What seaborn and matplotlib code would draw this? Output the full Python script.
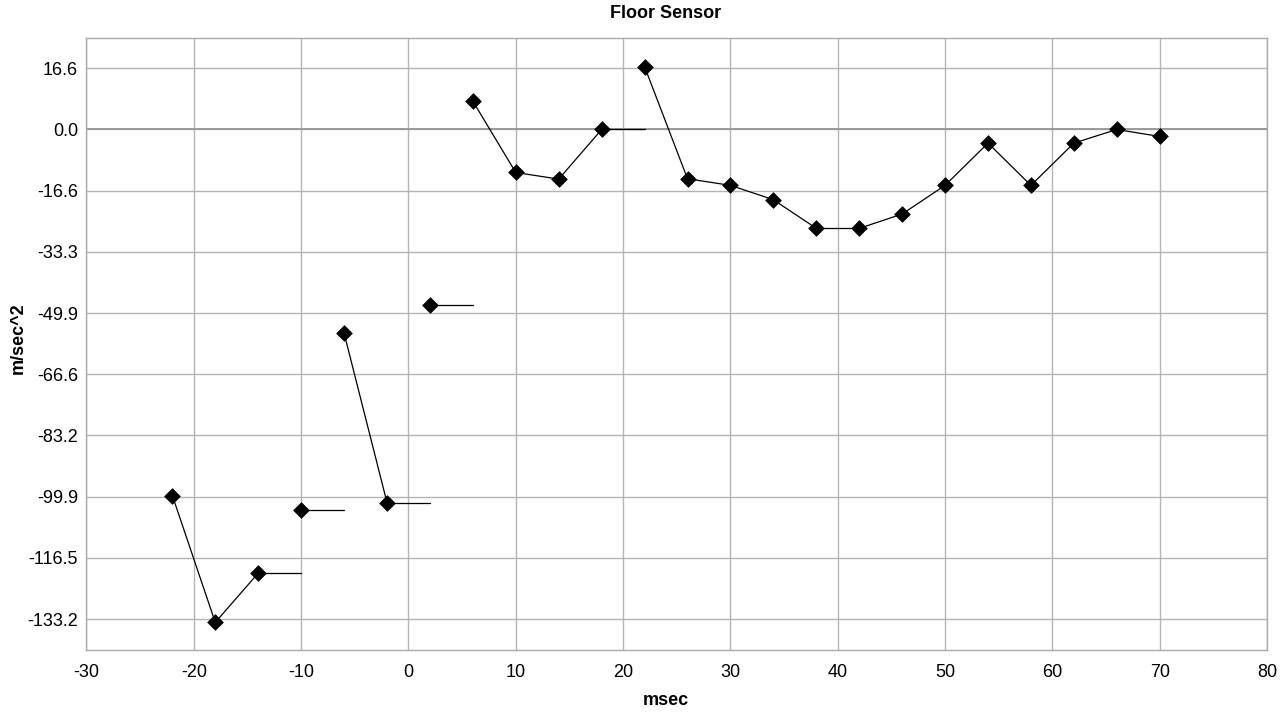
import matplotlib
matplotlib.use("Agg")
import matplotlib.pyplot as plt
import seaborn as sns
import pandas as pd

# ---- data ----
msec = [-22, -18, -14, -10, -6, -2, 2, 6, 10, 14, 18, 22, 26, 30, 34, 38, 42,
        46, 50, 54, 58, 62, 66, 70]
accel = [-99.6, -134.1, -120.7, -103.5, -55.4, -101.5, -47.8, 7.7, -11.7, -13.5,
         0.0, 17.1, -13.4, -15.2, -19.1, -26.9, -26.9, -23.0, -15.2, -3.7,
         -15.2, -3.7, 0.0, -1.9]
# x values after which the trace stays flat up to the next sample
hold_after = [-14, -10, -2, 2, 18]

x_ticks = [-30, -20, -10, 0, 10, 20, 30, 40, 50, 60, 70, 80]
x_tick_labels = ["-30", "-20", "-10", "0", "10", "20", "30", "40", "50", "60", "70", "80"]
y_ticks = [16.65, 0.0, -16.65, -33.3, -49.95, -66.6, -83.25, -99.9, -116.55, -133.2]
y_tick_labels = ["16.6", "0.0", "-16.6", "-33.3", "-49.9", "-66.6", "-83.2",
                 "-99.9", "-116.5", "-133.2"]

title = "Floor Sensor"
x_label = "msec"
y_label = "m/sec^2"

# ---- build segment table ----
rows = []
for i in range(len(msec) - 1):
    x0, y0 = msec[i], accel[i]
    x1 = msec[i + 1]
    y1 = y0 if x0 in hold_after else accel[i + 1]
    rows.append({"seg": i, "order": 0, "x": x0, "y": y0})
    rows.append({"seg": i, "order": 1, "x": x1, "y": y1})
segs = pd.DataFrame(rows)
pts = pd.DataFrame({"msec": msec, "accel": accel})

sns.set_style("white")
plt.rcParams["font.family"] = ["Liberation Sans", "DejaVu Sans"]
plt.rcParams["text.color"] = "black"
plt.rcParams["axes.labelcolor"] = "black"

fig = plt.figure(figsize=(12.87, 7.14), dpi=100)
ax = fig.add_axes([0.0672, 0.0901, 0.9173, 0.8571])

grid_c = "#b4b4b4"
ax.set_axisbelow(True)
ax.grid(True, color=grid_c, linewidth=1.0)
ax.axhline(0, color="#9a9a9a", linewidth=1.4, zorder=1)

sns.lineplot(data=segs, x="x", y="y", units="seg", estimator=None, sort=False,
             color="black", linewidth=0.9, ax=ax, zorder=3)
sns.scatterplot(data=pts, x="msec", y="accel", marker="D", s=64, color="black",
                edgecolor="black", linewidth=0.5, ax=ax, zorder=4)

ax.set_xlim(-30, 80)
ax.set_ylim(-141.525, 24.975)
ax.set_xticks(x_ticks)
ax.set_xticklabels(x_tick_labels)
ax.set_yticks(y_ticks)
ax.set_yticklabels(y_tick_labels)

for s in ax.spines.values():
    s.set_color("#aaaaaa")
    s.set_linewidth(1.0)
ax.tick_params(axis="both", which="both", length=3, width=1.0, color=grid_c,
               labelsize=13, labelcolor="black")
ax.tick_params(axis="x", pad=7)
ax.tick_params(axis="y", pad=3)

ax.set_xlabel(x_label, fontsize=13, fontweight="bold")
ax.set_ylabel(y_label, fontsize=13, fontweight="bold")
ax.xaxis.set_label_coords((666 - 86.5) / 1180.5, (649.7 - 692) / 612.0)
ax.yaxis.set_label_coords((10 - 86.5) / 1180.5, 0.509)
ax.yaxis.label.set_va("top")

fig.text(666 / 1287, 1 - 13 / 714, title, ha="center", va="center",
         fontsize=13, fontweight="bold")

fig.savefig("out.png", dpi=100)
